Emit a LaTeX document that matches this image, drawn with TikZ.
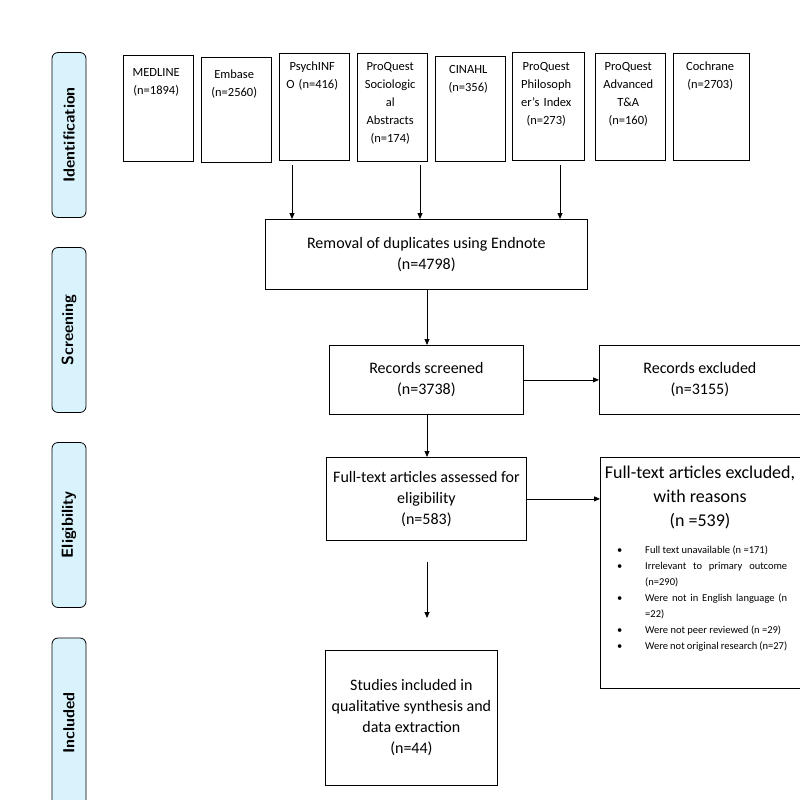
\documentclass[tikz,border=0pt]{standalone}
\usepackage{fontspec}
\setmainfont{Carlito}
\usetikzlibrary{calc, positioning, arrows.meta}
\tikzset{
  >={Triangle[length=6pt,width=5pt]},
  % source database
  src/.style={anchor=north west, align=center, inner sep=2pt,
    text width=66pt, font=\fontsize{12.5}{18}\selectfont},
  % flow box
  box/.style={draw, thick, align=center, font=\fontsize{16}{21}\selectfont},
  % stage label
  stage/.style={draw, thick, rounded corners=6pt, fill=cyan!15,
    minimum width=165pt, minimum height=34pt, rotate=90,
    font=\sffamily\bfseries\fontsize{16}{18}\selectfont},
  flow/.style={->, thick},
}
\begin{document}
\begin{tikzpicture}[x=1pt, y=-1pt]
  \useasboundingbox (0,0) rectangle (800,800);

  % stages
  \node[stage] (ident) at (69,135) {Identification};
  \node[stage] (screen) at (69,330) {Screening};
  \node[stage] (elig) at (69,525) {Eligibility};
  \node[stage, minimum width=170pt] (incl) at (69,723) {Included};

  % sources
  \draw[thick] (123,55) rectangle (193,161);
  \draw[thick] (201,57) rectangle (271,162);
  \draw[thick] (279,53) rectangle (349,160);
  \draw[thick] (357,53) rectangle (427,161);
  \draw[thick] (435,56) rectangle (505,161);
  \draw[thick] (512,52) rectangle (584,160);
  \draw[thick] (595,53) rectangle (665,160);
  \draw[thick] (673,53) rectangle (749,160);
  \node[src] (medline) at (121,66) {MEDLINE\\(n=1894)};
  \node[src] (embase) at (199,68) {Embase\\(n=2560)};
  \node[src] (psych) at (277,60) {PsychINF\\O (n=416)};
  \node[src] (socio) at (355,60) {ProQuest\\Sociologic\\al\\Abstracts\\(n=174)};
  \node[src] (cinahl) at (433,63) {CINAHL\\(n=356)};
  \node[src] (philo) at (511,60) {ProQuest\\Philosoph\\er's Index\\(n=273)};
  \node[src] (adv) at (593,60) {ProQuest\\Advanced\\T\&A\\(n=160)};
  \node[src, text width=72pt] (cochrane) at (672,60) {Cochrane\\(n=2703)};

  % flow
  \node[box, minimum width=322pt, minimum height=70pt, anchor=north west]
    (dup) at (265,219) {Removal of duplicates using Endnote\\(n=4798)};
  \node[box, minimum width=194pt, minimum height=69pt, anchor=north west]
    (screened) at (329,345) {Records screened\\(n=3738)};
  \node[box, minimum width=201pt, minimum height=69pt, anchor=north west]
    (excl) at (599,345) {Records excluded\\(n=3155)};
  \node[box, minimum width=200pt, minimum height=83pt, anchor=north west]
    (full) at (326,457) {Full-text articles assessed for\\eligibility\\(n=583)};
  \node[box, minimum width=200pt, minimum height=231pt, anchor=north west]
    (fullex) at (600,457) {};
  \node[align=center, font=\fontsize{18}{24}\selectfont, anchor=north]
    (fullexT) at (700,462) {Full-text articles excluded,\\with reasons\\(n =539)};
  \node[anchor=north west, inner sep=0pt,
    font=\fontsize{10.5}{16}\selectfont] (reasons) at (617,542) {%
    \begin{tabular}{@{}p{28pt}@{}p{142pt}@{}}
      \textbullet & Full text unavailable (n =171)\\
      \textbullet & Irrelevant to primary outcome (n=290)\\
      \textbullet & Were not in English language (n =22)\\
      \textbullet & Were not peer reviewed (n =29)\\
      \textbullet & Were not original research (n=27)
    \end{tabular}};
  \node[box, minimum width=172pt, minimum height=135pt, anchor=north west]
    (studies) at (325,650) {Studies included in\\qualitative synthesis and\\data extraction\\(n=44)};

  \coordinate (a1) at (292,165);
  \coordinate (a2) at (420,165);
  \coordinate (a3) at (560,165);
  \draw[flow] (a1) -- (a1 |- dup.north);
  \draw[flow] (a2) -- (a2 |- dup.north);
  \draw[flow] (a3) -- (a3 |- dup.north);
  \draw[flow] (dup.south -| 427,0) -- (screened.north -| 427,0);
  \draw[flow] (screened) -- (excl);
  \draw[flow] (screened.south -| 427,0) -- (full.north -| 427,0);
  \draw[flow] (full.east) -- (full.east -| fullex.west);
  \coordinate (f1) at (427,562);
  \coordinate (f2) at (427,618);
  \draw[flow] (f1) -- (f2);
\end{tikzpicture}
\end{document}
